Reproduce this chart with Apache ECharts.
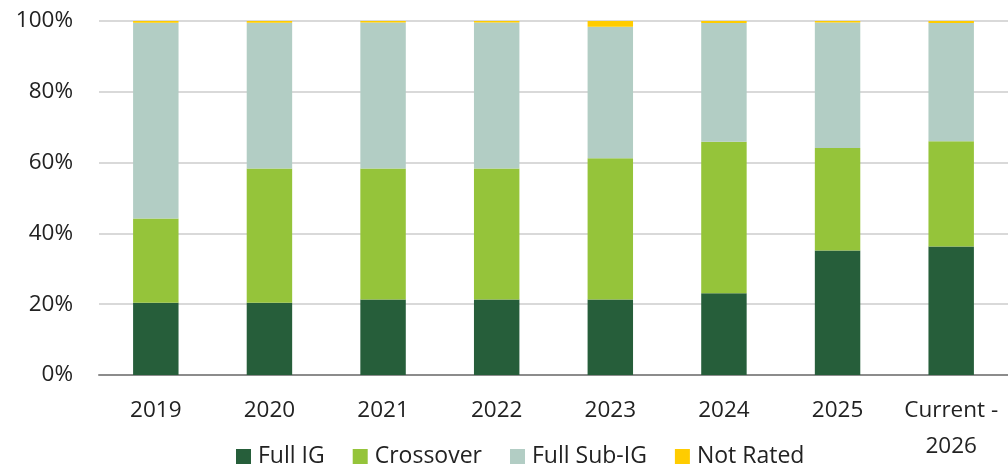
<!DOCTYPE html>
<html><head><meta charset="utf-8">
<script src="https://cdn.jsdelivr.net/npm/echarts@6/dist/echarts.min.js"></script>
<style>html,body{margin:0;padding:0;background:#fff}#c{width:1008px;height:468px}</style>
</head><body><div id="c"></div>
<script>
const categories = ['2019','2020','2021','2022','2023','2024','2025','Current -\n2026'];
const fullIG    = [20.4, 20.4, 21.3, 21.3, 21.3, 23.1, 35.2, 36.3];
const crossover = [23.8, 37.9, 37.0, 37.0, 39.9, 42.8, 28.9, 29.7];
const fullSubIG = [55.3, 41.2, 41.3, 41.3, 37.2, 33.5, 35.5, 33.4];
const notRated  = [0.5, 0.5, 0.4, 0.4, 1.6, 0.6, 0.4, 0.6];
const yTicks = [0, 20, 40, 60, 80, 100];

const font = '"Open Sans", "Noto Sans", sans-serif';
const mk = (name, data, color) => ({
  name, type: 'bar', stack: 'total', data, barWidth: '40%',
  itemStyle: { color }, emphasis: { disabled: true }
});
const chart = echarts.init(document.getElementById('c'), null, { renderer: 'canvas' });
chart.setOption({
  animation: false,
  textStyle: { fontFamily: font },
  grid: { left: 99, top: 21, width: 915, height: 354, containLabel: false },
  legend: {
    bottom: -5, left: 231, itemWidth: 15, itemHeight: 15, itemGap: 28,
    icon: 'rect',
    textStyle: { fontFamily: font, fontSize: 23, color: '#222', padding: [0, 0, 0, 2] },
    data: ['Full IG', 'Crossover', 'Full Sub-IG', 'Not Rated']
  },
  xAxis: {
    type: 'category', data: categories,
    axisLine: { lineStyle: { color: '#8c8c8c', width: 2 } },
    axisTick: { show: false },
    axisLabel: { color: '#222', fontSize: 22.5, margin: 18, lineHeight: 36, fontFamily: font, interval: 0 }
  },
  yAxis: {
    type: 'value', min: 0, max: 100, interval: 20,
    axisLine: { show: false }, axisTick: { show: false },
    splitLine: { lineStyle: { color: '#d9d9d9', width: 2 } },
    axisLabel: { color: '#222', fontSize: 22.5, margin: 26, fontFamily: font,
      formatter: v => yTicks.includes(v) ? v + '%' : '' }
  },
  series: [
    mk('Full IG', fullIG, '#265e3a'),
    mk('Crossover', crossover, '#95c43a'),
    mk('Full Sub-IG', fullSubIG, '#b2cdc4'),
    mk('Not Rated', notRated, '#ffcc00')
  ]
});
</script></body></html>
